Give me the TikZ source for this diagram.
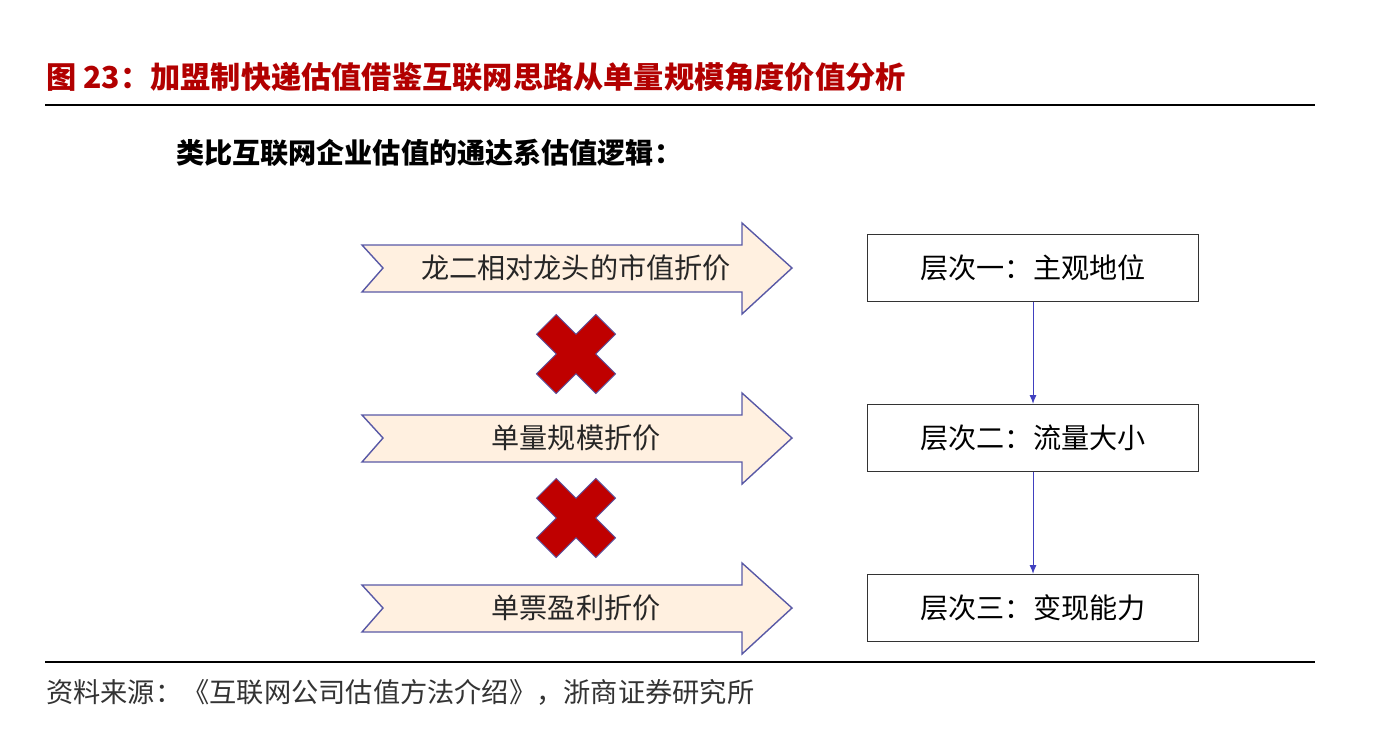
\documentclass[tikz,border=0pt]{standalone}
\usepackage{fontspec}
\setmainfont{Noto Sans CJK SC}
\usetikzlibrary{arrows.meta,positioning}

\begin{document}
\begin{tikzpicture}[x=0.02cm, y=-0.02cm,
    bigarrow/.style={draw=blue!30!gray, fill=orange!12, line width=0.8pt},
    arrowtext/.style={font=\fontsize{16}{16}\selectfont, text=black!85},
    crossmark/.style={draw=blue!30!gray, fill=red!75!black, line width=0.5pt},
    levelbox/.style={draw=black!80, line width=0.8pt, minimum width=331*0.02cm, minimum height=67*0.02cm, font=\fontsize{16}{16}\selectfont},
    link/.style={-{Latex[length=5pt,width=4pt]}, draw=blue!50!gray, line width=0.5pt}
]
    \useasboundingbox (0,0) rectangle (1378,748);

    % Title and rules
    \node[anchor=west, font=\fontsize{17.2}{17.2}\selectfont\bfseries, text=red!70!black] (title) at (40,77) {图 23：加盟制快递估值借鉴互联网思路从单量规模角度价值分析};
    \draw[line width=1pt] (45,105) -- (1315,105);
    \node[anchor=west, font=\fontsize{16}{16}\selectfont\bfseries] (subtitle) at (170,153) {类比互联网企业估值的通达系估值逻辑：};

    % Left arrows
    \foreach \y/\txt/\name in {268/龙二相对龙头的市值折价/a1, 438/单量规模折价/a2, 608/单票盈利折价/a3} {
        \draw[bigarrow] (362,\y-23) -- (742,\y-23) -- (742,\y-45) -- (792,\y)
            -- (742,\y+46) -- (742,\y+24) -- (362,\y+24) -- (383,\y) -- cycle;
        \node[arrowtext] (\name) at (576,\y) {\txt};
    }

    % Crosses
    \foreach \y in {354,518} {
        \begin{scope}[shift={(576,\y)}, rotate=45]
            \draw[crossmark] (-42,-14) -- (-14,-14) -- (-14,-42) -- (14,-42) -- (14,-14) -- (42,-14)
                -- (42,14) -- (14,14) -- (14,42) -- (-14,42) -- (-14,14) -- (-42,14) -- cycle;
        \end{scope}
    }

    % Level boxes
    \node[levelbox] (l1) at (1033,268) {层次一：主观地位};
    \node[levelbox] (l2) at (1033,438) {层次二：流量大小};
    \node[levelbox] (l3) at (1033,608) {层次三：变现能力};
    \draw[link] (l1) -- (l2);
    \draw[link] (l2) -- (l3);

    % Source
    \draw[line width=1pt] (45,662) -- (1315,662);
    \node[anchor=west, font=\fontsize{15.5}{15.5}\selectfont, text=black!80] (source) at (40,692) {资料来源：《互联网公司估值方法介绍》，浙商证券研究所};
\end{tikzpicture}
\end{document}
